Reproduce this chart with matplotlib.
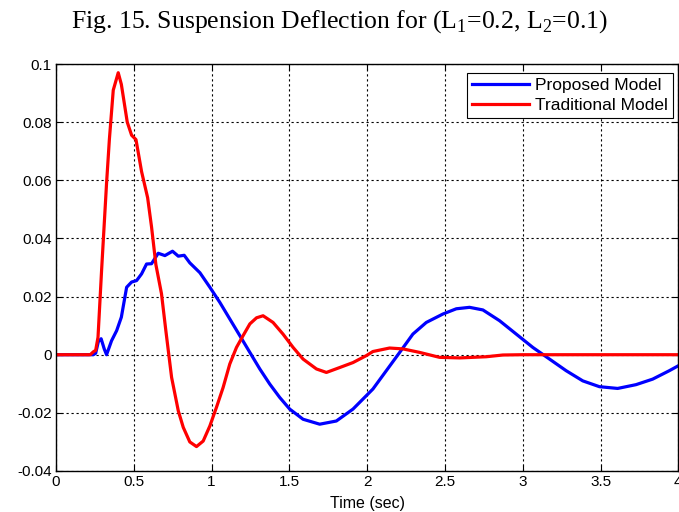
import matplotlib
matplotlib.use("Agg")
import matplotlib.pyplot as plt

# Traditional model (red)
trad_t = [0.0, 0.22, 0.24, 0.255, 0.27, 0.293, 0.325, 0.343, 0.368, 0.40, 0.42, 0.458, 0.486, 0.514,
          0.55, 0.589, 0.614, 0.642, 0.678, 0.706, 0.743, 0.786, 0.818, 0.86, 0.903, 0.946,
          0.989, 1.032, 1.074, 1.117, 1.16, 1.203, 1.246, 1.289, 1.331, 1.395, 1.459, 1.524,
          1.588, 1.674, 1.738, 1.824, 1.909, 1.995, 2.037, 2.144, 2.23, 2.337, 2.465, 2.594,
          2.765, 2.872, 3.0, 3.5, 4.0]
trad_v = [0.0, 0.0, 0.001, 0.0015, 0.006, 0.029, 0.059, 0.074, 0.091, 0.097, 0.093, 0.080, 0.0755, 0.074,
          0.063, 0.054, 0.044, 0.031, 0.021, 0.0083, -0.0078, -0.0193, -0.025, -0.030, -0.0316, -0.0297,
          -0.0245, -0.018, -0.0113, -0.0032, 0.0025, 0.0066, 0.0106, 0.0127, 0.0134, 0.0111, 0.0071, 0.0025,
          -0.0015, -0.0049, -0.0061, -0.0044, -0.0027, -0.0003, 0.0011, 0.0023, 0.002, 0.0008, -0.0009, -0.0011,
          -0.0007, -0.0001, 0.0, 0.0, 0.0]

# Proposed model (blue)
prop_t = [0.0, 0.24, 0.255, 0.272, 0.29, 0.31, 0.325, 0.357, 0.39, 0.42, 0.454, 0.486, 0.518, 0.55,
          0.582, 0.614, 0.657, 0.70, 0.749, 0.786, 0.824, 0.86, 0.925, 0.989, 1.053, 1.117, 1.181,
          1.246, 1.31, 1.374, 1.438, 1.502, 1.588, 1.695, 1.802, 1.909, 2.037, 2.123, 2.209, 2.294,
          2.38, 2.487, 2.573, 2.658, 2.744, 2.851, 2.958, 3.065, 3.172, 3.279, 3.386, 3.493, 3.61,
          3.728, 3.835, 3.942, 4.0]
prop_v = [0.0, 0.0, 0.0005, 0.0045, 0.0055, 0.002, 0.0, 0.0048, 0.0083, 0.0129, 0.0232, 0.025, 0.0255, 0.0278,
          0.0312, 0.0313, 0.0349, 0.0341, 0.0356, 0.0339, 0.0342, 0.0316, 0.0282, 0.0232, 0.018, 0.0123, 0.0066,
          0.0008, -0.0049, -0.0101, -0.0147, -0.0187, -0.0222, -0.0239, -0.0228, -0.0187, -0.0118, -0.0055, 0.0008, 0.0071,
          0.0111, 0.014, 0.0158, 0.0163, 0.0154, 0.0117, 0.0071, 0.0025, -0.0015, -0.0055, -0.009, -0.011, -0.0116,
          -0.0103, -0.0084, -0.0055, -0.0038]

xticks = [0, 0.5, 1, 1.5, 2, 2.5, 3, 3.5, 4]
xticklabels = ["0", "0.5", "1", "1.5", "2", "2.5", "3", "3.5", "4"]
yticks = [-0.04, -0.02, 0, 0.02, 0.04, 0.06, 0.08, 0.1]
yticklabels = ["-0.04", "-0.02", "0", "0.02", "0.04", "0.06", "0.08", "0.1"]

plt.rcParams['mathtext.fontset'] = 'custom'
plt.rcParams['mathtext.rm'] = 'Liberation Serif'

fig = plt.figure(figsize=(6.79, 5.12), dpi=100)
ax = fig.add_axes([56/679, 1-471/512, 1-56/679-0.001, (471-64)/512])

ax.plot(prop_t, prop_v, color='#0000ff', lw=2.3, label='Proposed Model')
ax.plot(trad_t, trad_v, color='#ff0000', lw=2.3, label='Traditional Model')

ax.set_xlim(0, 4)
ax.set_ylim(-0.04, 0.1)
ax.set_xticks(xticks)
ax.set_xticklabels(xticklabels, fontfamily='Liberation Sans', fontsize=11)
ax.set_yticks(yticks)
ax.set_yticklabels(yticklabels, fontfamily='Liberation Sans', fontsize=11)
ax.tick_params(direction='in', length=4, width=0.8, colors='black', top=True, right=True, pad=3)
ax.grid(True, color='black', linestyle=(0, (2, 2.5)), linewidth=0.8)
for s in ax.spines.values():
    s.set_linewidth(1.0)
    s.set_color('black')

ax.set_xlabel('Time (sec)', fontfamily='Liberation Sans', fontsize=11.5, labelpad=5)

leg = ax.legend(loc='upper right', bbox_to_anchor=(0.992, 0.978),
                prop={'family': 'Liberation Sans', 'size': 12.5},
                fancybox=False, edgecolor='black', framealpha=1, borderaxespad=0,
                handlelength=3.3, handletextpad=0.35, borderpad=0.3, labelspacing=0.25)
leg.get_frame().set_linewidth(0.8)

fig.text(0.5, 1-22/512, 'Fig. 15. Suspension Deflection for (L$_\\mathregular{1}$=0.2, L$_\\mathregular{2}$=0.1)',
         ha='center', va='center', fontfamily='Liberation Serif', fontsize=18.5)

fig.savefig('out.png', dpi=100)
